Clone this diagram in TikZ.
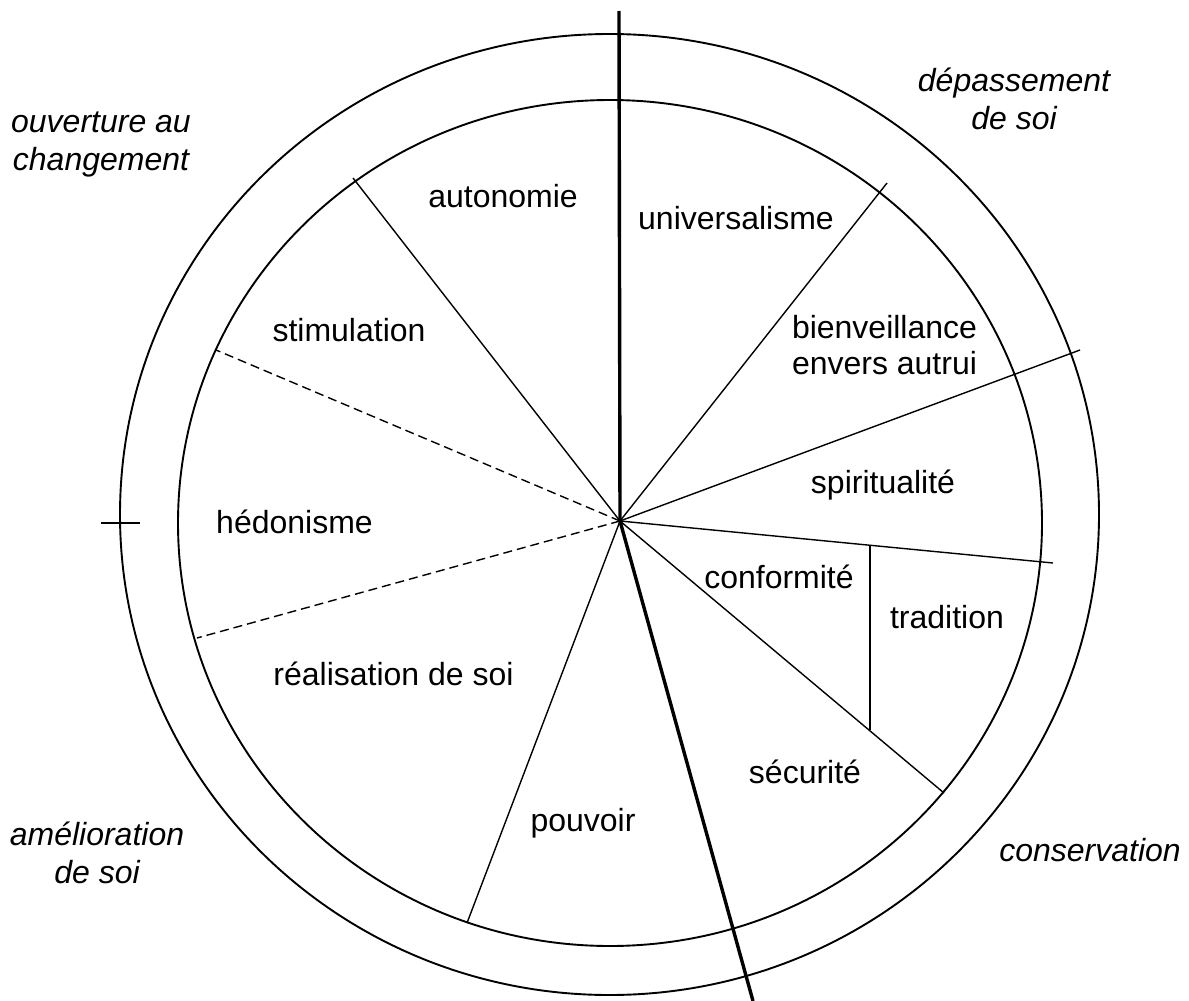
\documentclass[tikz,border=0pt]{standalone}
\usepackage{fontspec}
\setmainfont{Liberation Sans}
\begin{document}
\begin{tikzpicture}[x=1pt,y=-1pt,
  ring/.style={line width=1.9pt},
  spoke/.style={line width=1.4pt},
  thickspoke/.style={line width=3.4pt},
  dashspoke/.style={line width=1.4pt,dash pattern=on 9pt off 5pt},
  lab/.style={font=\fontsize{32}{36}\selectfont,align=center,inner sep=0pt},
  zone/.style={font=\fontsize{32}{38}\selectfont\itshape,align=center,inner sep=0pt}]
\useasboundingbox (0,0) rectangle (1189,1001);
% rings
\draw[ring] (609.5,514.5) ellipse [x radius=489.5, y radius=480.5];
\draw[ring] (610,523) ellipse [x radius=432, y radius=423];
% tick on the left
\coordinate (tickL) at (101,523);
\coordinate (tickR) at (140,523);
\draw[spoke] (tickL) -- (tickR);
% centre and spoke ends
\coordinate (c) at (620,521);
\coordinate (top) at (619,11);
\coordinate (bot) at (753,1001);
\coordinate (eAut) at (353,178);
\coordinate (eSti) at (216,350);
\coordinate (eHed) at (197,638);
\coordinate (eRea) at (467,923);
\coordinate (eSec) at (944,793);
\coordinate (eTra) at (1053,563);
\coordinate (eSpi) at (1080,350);
\coordinate (eUni) at (887,183);
\coordinate (vTop) at (870,546);
\coordinate (vBot) at (870,730);
\draw[thickspoke] (top) -- (c) -- (bot);
\draw[spoke] (c) -- (eAut);
\draw[dashspoke] (c) -- (eSti);
\draw[dashspoke] (c) -- (eHed);
\draw[spoke] (c) -- (eRea);
\draw[spoke] (c) -- (eSec);
\draw[spoke] (c) -- (eTra);
\draw[spoke] (c) -- (eSpi);
\draw[spoke] (c) -- (eUni);
\draw[spoke] (vTop) -- (vBot);
% sector labels
\node[lab] (autonomie) at (503,196) {autonomie};
\node[lab] (universalisme) at (736,218) {universalisme};
\node[lab] (stimulation) at (349,330) {stimulation};
\node[lab,anchor=base] (bienveillance) at (884.5,374) {bienveillance\\envers autrui};
\node[lab,anchor=base] (spiritualite) at (883,493) {spiritualité};
\node[lab,anchor=base] (hedonisme) at (294.5,533) {hédonisme};
\node[lab] (conformite) at (779,577) {conformité};
\node[lab] (tradition) at (947,617) {tradition};
\node[lab,anchor=base] (realisation) at (393.5,685) {réalisation de soi};
\node[lab] (securite) at (805,772) {sécurité};
\node[lab] (pouvoir) at (583,823) {pouvoir};
% zone labels
\node[zone] (ouverture) at (101,144) {ouverture au\\changement};
\node[zone] (depassement) at (1014,99) {dépassement\\de soi};
\node[zone] (amelioration) at (97,853) {amélioration\\de soi};
\node[zone] (conservation) at (1090,850) {conservation};
\end{tikzpicture}
\end{document}
